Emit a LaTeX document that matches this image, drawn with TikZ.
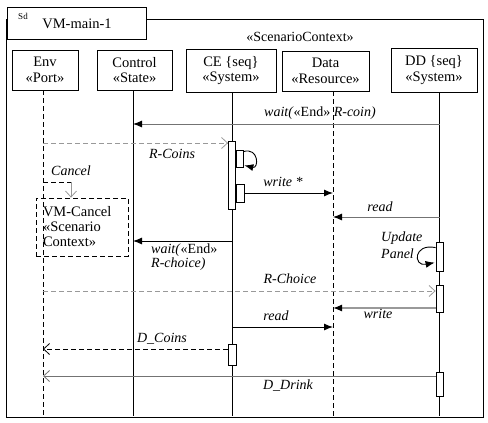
\documentclass[tikz,border=0pt]{standalone}
\usepackage{fontspec}
\setmainfont{Liberation Serif}
\usetikzlibrary{arrows.meta,calc}
\tikzset{
	head/.style={draw,line width=0.9pt,align=center,inner sep=0pt,font=\fontsize{14.5}{15.5}\selectfont},
	act/.style={draw,fill=white,line width=0.8pt,minimum width=7pt,inner sep=0pt},
	lbl/.style={inner sep=0pt,font=\fontsize{14}{14}\selectfont\itshape},
	sync/.style={-{Latex[length=9pt,width=7pt,color=black]},line width=0.9pt},
	rply/.style={-{Straight Barb[length=6pt,width=11pt]},line width=0.8pt},
	dsh/.style={dash pattern=on 5pt off 3pt},
}
\begin{document}
\begin{tikzpicture}[x=1pt,y=-1pt]
	\useasboundingbox (0,0) rectangle (488,423);
	\draw[line width=0.9pt] (6,19) rectangle (483,417);
	\node[draw,fill=white,line width=0.9pt,minimum width=139pt,minimum height=32pt] (tab) at (76.5,23) {};
	\node[inner sep=0pt,font=\fontsize{9}{9}\selectfont] (sd) at (23,16) {Sd};
	\node[inner sep=0pt,font=\fontsize{14.5}{15}\selectfont] (title) at (77,24) {VM-main-1};
	\node[inner sep=0pt,font=\fontsize{14}{15}\selectfont] (ctx) at (300,37) {«ScenarioContext»};

	\node[head,minimum width=66pt,minimum height=40pt] (env) at (45,70) {Env\\«Port»};
	\node[head,minimum width=75pt,minimum height=40pt] (ctrl) at (134.5,70) {Control\\«State»};
	\node[head,minimum width=90pt,minimum height=43pt] (ce) at (231,70.5) {CE \{seq\}\\«System»};
	\node[head,minimum width=87pt,minimum height=40pt] (data) at (325.5,71) {Data\\«Resource»};
	\node[head,minimum width=86pt,minimum height=44pt] (dd) at (434,70) {DD \{seq\}\\«System»};

	\coordinate (envT) at (43,90);
	\coordinate (ctrlT) at (133,90);
	\coordinate (ceT) at (232,92);
	\coordinate (dataT) at (333,91);
	\coordinate (ddT) at (439.5,92);
	\coordinate (bot) at (0,416);
	\draw[dsh,line width=0.8pt] (envT) -- (envT |- bot);
	\draw[line width=0.8pt] (ctrlT) -- (ctrlT |- bot);
	\draw[line width=0.8pt] (ceT) -- (ceT |- bot);
	\draw[dsh,line width=0.8pt] (dataT) -- (dataT |- bot);
	\draw[line width=0.8pt] (ddT) -- (ddT |- bot);

	\node[act,minimum height=68pt] (ceA) at (232,175) {};
	\node[act,minimum height=17pt] (ceB) at (239.5,158.5) {};
	\node[act,minimum width=8pt,minimum height=18pt] (ceC) at (240,193) {};
	\node[act,minimum width=8pt,minimum height=21pt] (ceD) at (232,354.5) {};
	\node[act,minimum height=29pt] (ddA) at (439.5,256.5) {};
	\node[act,minimum height=27pt] (ddB) at (439.5,298.5) {};
	\node[act,minimum height=24pt] (ddC) at (439.5,384) {};

	\node[draw,dsh,line width=0.8pt,align=left,text width=78pt,inner xsep=7pt,minimum height=58pt,font=\fontsize{14.5}{15}\selectfont] (vmc) at (82,227) {VM-Cancel\\«Scenario\\Context»};

	\draw[sync,black!55] (ddT |- 0,124) -- (ctrlT |- 0,124);
	\node[lbl] (l1) at (320,113) {wait(\textup{«End»} R-coin)};
	\draw[rply,dsh,black!40] (envT |- 0,143) -- (ceA.west |- 0,143);
	\node[lbl] (l2) at (172,154) {R-Coins};
	\draw[sync] ($(ceB.north east)+(0,2)$) .. controls (259,147) and (259,169) .. ($(ceB.south east)+(1,-2)$);
	\draw[sync] (ceC.east) -- (dataT |- ceC.east);
	\node[lbl] (l3) at (283,182) {write *};
	\draw[sync,black!55] (ddT |- 0,217) -- (dataT |- 0,217);
	\node[lbl] (l4) at (380,207) {read};

	\coordinate (cK) at (71,182);
	\draw[dsh,line width=0.8pt] (envT |- cK) -- (cK);
	\draw[rply,black!40] (cK) -- (cK |- vmc.north);
	\node[lbl] (l5) at (71,171) {Cancel};

	\draw[sync] (ceT |- 0,241) -- (ctrlT |- 0,241);
	\node[lbl,align=left,anchor=north west] (l6) at (151,244) {wait(\textup{«End»}\\R-choice)};
	\draw[sync] ($(ddA.north west)+(0,6)$) .. controls (413,243) and (413,267) .. ($(ddA.north west)+(-1,21)$);
	\node[lbl,align=left,anchor=north west,font=\fontsize{14}{17}\selectfont\itshape] (l7) at (381,232) {Update\\Panel};

	\draw[rply,dsh,black!40] (envT |- 0,291) -- (ddB.west |- 0,291);
	\node[lbl] (l8) at (290,279) {R-Choice};
	\draw[sync,black!40,line width=1.3pt] (ddB.west |- 0,308) -- (dataT |- 0,308);
	\node[lbl] (l9) at (378,314) {write};
	\draw[sync] (ceT |- 0,327) -- (dataT |- 0,327);
	\node[lbl] (l10) at (276,316) {read};
	\draw[rply,dsh] (ceD.west |- 0,349) -- (envT |- 0,349);
	\node[lbl] (l11) at (162,339) {D\_Coins};
	\draw[rply,black!55] (ddC.west |- 0,376) -- (envT |- 0,376);
	\node[lbl] (l12) at (288,386) {D\_Drink};
\end{tikzpicture}
\end{document}
